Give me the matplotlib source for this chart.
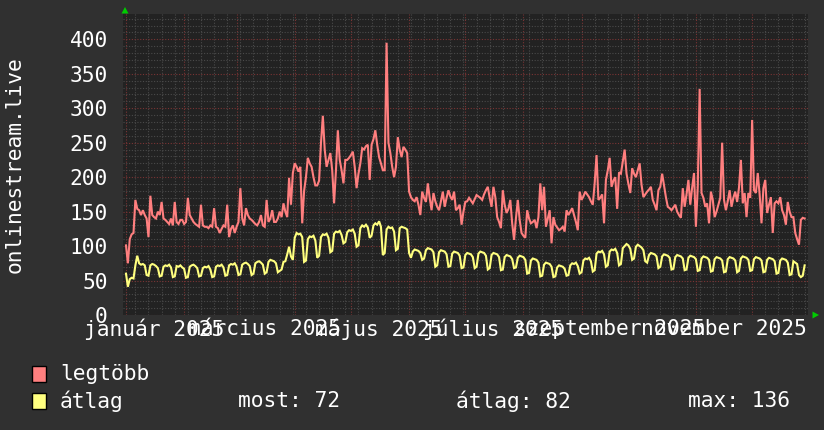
import matplotlib
matplotlib.use('Agg')
import matplotlib.pyplot as plt
import numpy as np
from matplotlib.patches import Rectangle, Polygon
from matplotlib.transforms import blended_transform_factory

# ---------------- data ----------------
legtobb = [
    101, 75, 110, 117, 119, 167, 154, 152, 145, 152,
    145, 140, 113, 173, 145, 142, 140, 150, 145, 164,
    140, 138, 135, 132, 140, 130, 164, 135, 132, 138,
    138, 132, 135, 170, 145, 140, 135, 132, 130, 128,
    160, 130, 128, 128, 126, 130, 128, 155, 128, 126,
    119, 125, 130, 128, 160, 113, 125, 130, 119, 128,
    135, 184, 140, 130, 155, 145, 140, 138, 135, 132,
    130, 135, 145, 130, 128, 167, 135, 140, 152, 135,
    135, 140, 150, 142, 162, 150, 142, 199, 160, 206,
    220, 215, 208, 215, 133, 180, 200, 228, 220, 215,
    200, 188, 188, 195, 249, 289, 240, 215, 225, 235,
    210, 162, 210, 268, 225, 210, 191, 225, 225, 228,
    232, 237, 215, 184, 205, 220, 242, 240, 245, 247,
    196, 247, 255, 268, 247, 229, 220, 210, 210, 395,
    250, 235, 215, 200, 215, 258, 240, 229, 244, 240,
    235, 179, 171, 167, 165, 171, 160, 145, 179, 170,
    164, 191, 170, 152, 177, 165, 157, 152, 165, 179,
    157, 170, 181, 172, 167, 179, 152, 155, 160, 131,
    150, 164, 165, 170, 166, 162, 168, 174, 172, 170,
    167, 175, 181, 186, 170, 157, 186, 171, 142, 135,
    126, 181, 160, 148, 154, 167, 133, 109, 140, 167,
    138, 119, 115, 112, 152, 140, 133, 135, 138, 126,
    142, 191, 152, 186, 128, 140, 152, 104, 142, 131,
    127, 123, 125, 128, 121, 152, 145, 150, 155, 145,
    135, 123, 179, 167, 172, 179, 175, 171, 165, 160,
    191, 232, 167, 170, 175, 133, 196, 210, 228, 186,
    195, 200, 154, 207, 205, 222, 240, 205, 190, 177,
    213, 205, 200, 210, 220, 189, 171, 175, 179, 182,
    186, 167, 160, 152, 181, 186, 205, 188, 171, 157,
    155, 152, 156, 160, 150, 145, 141, 184, 157, 175,
    196, 160, 185, 206, 128, 186, 328, 177, 170, 157,
    162, 133, 179, 167, 142, 150, 160, 170, 250, 167,
    152, 165, 181, 157, 170, 179, 164, 185, 225, 162,
    177, 142, 177, 170, 283, 181, 177, 206, 175, 133,
    184, 196, 148, 160, 171, 119, 162, 165, 162, 171,
    152, 145, 131, 164, 150, 142, 142, 119, 110, 102,
    138, 141, 140,
]

atlag = [
    60, 41, 52, 54, 53, 72,
    86, 75, 73, 74, 72, 58, 57,
    72, 74, 73, 71, 68, 56, 57,
    70, 72, 71, 73, 69, 55, 56,
    71, 70, 72, 69, 67, 54, 55,
    70, 72, 73, 71, 68, 56, 57,
    68, 70, 69, 71, 66, 55, 56,
    70, 72, 71, 73, 69, 57, 58,
    72, 74, 73, 75, 70, 58, 59,
    73, 75, 76, 74, 71, 58, 60,
    75, 77, 78, 76, 73, 60, 62,
    77, 80, 79, 78, 75, 62, 64,
    66, 77, 78, 88, 99, 85, 80,
    112, 119, 117, 118, 113, 77, 79,
    110, 114, 113, 115, 108, 83, 86,
    113, 117, 116, 118, 112, 91, 93,
    118, 121, 120, 122, 116, 104, 106,
    120, 123, 122, 124, 118, 99, 101,
    126, 130, 128, 131, 127, 112, 115,
    130, 133, 131, 136, 128, 87, 90,
    124, 128, 126, 127, 121, 94, 96,
    126, 128, 127, 126, 124, 90, 83,
    92, 95, 94, 93, 90, 80, 82,
    94, 97, 96, 95, 91, 70, 72,
    91, 94, 93, 92, 88, 70, 71,
    89, 92, 91, 90, 86, 68, 69,
    87, 90, 89, 88, 84, 68, 70,
    89, 92, 91, 90, 86, 66, 68,
    87, 90, 89, 88, 84, 65, 66,
    84, 87, 86, 85, 81, 68, 69,
    83, 86, 85, 84, 80, 60, 61,
    79, 82, 81, 80, 76, 56, 57,
    73, 76, 75, 74, 70, 55, 56,
    69, 72, 71, 70, 67, 57, 58,
    72, 75, 74, 76, 71, 60, 62,
    79, 82, 81, 83, 78, 63, 65,
    89, 92, 91, 93, 88, 70, 72,
    92, 95, 94, 96, 90, 72, 74,
    97, 100, 103, 101, 96, 80, 82,
    99, 102, 100, 98, 94, 78, 76,
    87, 90, 89, 88, 85, 68, 70,
    85, 88, 87, 86, 83, 66, 67,
    84, 87, 86, 85, 82, 65, 66,
    83, 86, 85, 84, 81, 64, 65,
    82, 85, 84, 83, 80, 63, 64,
    81, 84, 83, 82, 79, 62, 63,
    81, 84, 83, 82, 79, 62, 64,
    82, 85, 84, 83, 80, 64, 65,
    81, 84, 83, 82, 79, 62, 63,
    80, 83, 82, 81, 78, 60, 61,
    79, 82, 81, 80, 76, 58, 59,
    78, 76, 74, 58, 55, 57, 72,
]

month_starts = [0, 31, 59, 90, 120, 151, 181, 212, 243, 273, 304, 334]
label_days = [15, 74, 135, 196, 258, 319]
label_texts = ['január 2025', 'március 2025', 'május 2025',
               'július 2025', 'szeptember 2025', 'november 2025']
y_ticks = [0, 50, 100, 150, 200, 250, 300, 350, 400]
series_names = ['legtöbb', 'átlag']
stat_names = ['most', 'átlag', 'max']
stat_values = [72, 82, 136]
y_title = 'onlinestream.live'

# ---------------- style ----------------
W, H = 824, 430
BG = '#303030'
CANVAS = '#222222'
RED = '#ff7f7f'
YEL = '#ffff7f'
FONT = 'DejaVu Sans Mono'
FS = 15.3
TXT = '#ffffff'

plt.rcParams['font.family'] = [FONT]

fig = plt.figure(figsize=(W / 100, H / 100), dpi=100, facecolor=BG)
L, R, T, B = 123, 808, 14, 315
ax = fig.add_axes([L / W, 1 - B / H, (R - L) / W, (B - T) / H])
ax.set_facecolor(CANVAS)
ax.set_xlim(-1.6, 363.8)
ax.set_ylim(0, 436.7)
for s in ax.spines.values():
    s.set_visible(False)

# grid
ax.set_yticks(y_ticks)
ax.set_yticks(np.arange(0, 437, 10), minor=True)
ax.set_xticks(month_starts)
ax.set_xticks(np.arange(5, 364, 7), minor=True)
ax.grid(which='minor', color='#4a4a4a', linestyle=(0, (1, 1.5)), linewidth=0.8)
ax.grid(which='major', color='#7a3434', linestyle=(0, (1, 1.5)), linewidth=0.8)
ax.set_axisbelow(True)
ax.tick_params(which='both', length=0)
ax.tick_params(axis='y', labelsize=FS, labelcolor=TXT, pad=11)
ax.set_xticklabels([])

# series
ax.plot(np.arange(len(legtobb)), legtobb, color=RED, lw=1.5, solid_joinstyle='miter')
ax.plot(np.arange(len(atlag)), atlag, color=YEL, lw=1.5, solid_joinstyle='miter')

# x labels (centred mid-month)
tr = blended_transform_factory(ax.transData, ax.transAxes)
for d, t in zip(label_days, label_texts):
    ax.text(d, -0.012, t, transform=tr, ha='center', va='top',
            fontsize=FS, color=TXT, family=FONT)

# y title
fig.text(15 / W, 1 - 165 / H, y_title, rotation=90, ha='center', va='center',
         fontsize=FS, color=TXT, family=FONT)

# arrows
fig.patches.append(Polygon([[(125 - 3.5) / W, 1 - 13.5 / H], [(125 + 3.5) / W, 1 - 13.5 / H],
                            [125 / W, 1 - 7 / H]], closed=True, facecolor='#00cc00',
                           edgecolor='none', transform=fig.transFigure))
fig.patches.append(Polygon([[812.5 / W, 1 - (315 - 3.5) / H], [812.5 / W, 1 - (315 + 3.5) / H],
                            [819 / W, 1 - 315 / H]], closed=True, facecolor='#00cc00',
                           edgecolor='none', transform=fig.transFigure))

# legend
rows_y = [374, 401]
colors = [RED, YEL]
for name, c, yy in zip(series_names, colors, rows_y):
    fig.patches.append(Rectangle((32 / W, 1 - (yy + 8) / H), 14 / W, 16 / H,
                                 facecolor=c, edgecolor='black', linewidth=1,
                                 transform=fig.transFigure))
    fig.text(60 / W, 1 - yy / H, name, ha='left', va='center', fontsize=FS,
             color=TXT, family=FONT)
stat_x = [238, 456, 688]
for nm, v, xx in zip(stat_names, stat_values, stat_x):
    fig.text(xx / W, 1 - rows_y[1] / H, f'{nm}: {v}', ha='left', va='center',
             fontsize=FS, color=TXT, family=FONT)

fig.savefig('out.png', dpi=100, facecolor=BG)
